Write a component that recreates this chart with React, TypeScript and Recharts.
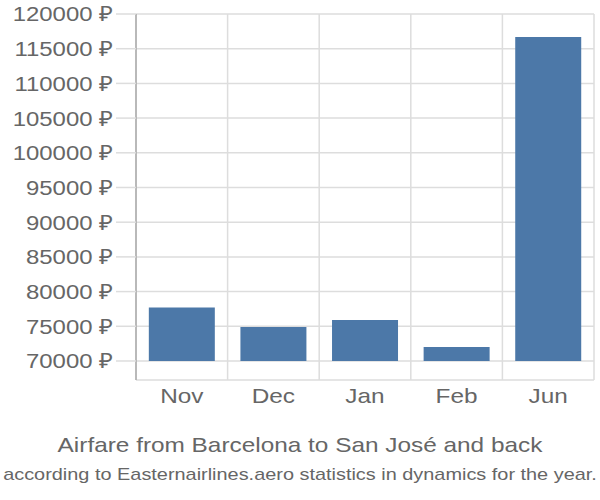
import React from 'react';
import { BarChart, Bar, XAxis, YAxis, CartesianGrid } from 'recharts';

const MONTHS = ['Nov', 'Dec', 'Jan', 'Feb', 'Jun'];
const PRICES = [77700, 74900, 75900, 72000, 116700];
const Y_TICKS = [70000, 75000, 80000, 85000, 90000, 95000, 100000, 105000, 110000, 115000, 120000];
const BASE = 70000;

// bars start at the 70000 line, the axis runs a bit below it
const data = MONTHS.map((month, i) => ({ month, price: [BASE, PRICES[i]] }));

const BAR_COLOR = '#4c78a8';
const TEXT_COLOR = '#666';
const FONT = '"Liberation Sans", Arial, sans-serif';
const STRETCH = 1.14;

const stretchAt = (x: number, k: number) => `translate(${x} 0) scale(${k} 1) translate(${-x} 0)`;

const YTick = ({ x, y, payload }: any) => (
  <text x={x} y={y} dy="0.355em" textAnchor="end" fill={TEXT_COLOR} fontSize={21} fontFamily={FONT} transform={stretchAt(x, STRETCH)}>
    {`${payload.value} ₽`}
  </text>
);

const XTick = ({ x, y, payload }: any) => (
  <text x={x} y={y} dy="0.71em" textAnchor="middle" fill={TEXT_COLOR} fontSize={21} fontFamily={FONT} transform={stretchAt(x, STRETCH + 0.02)}>
    {payload.value}
  </text>
);

const App: React.FC = () => {
  // vertical lines sit between the categories, not on them
  const boundaries = ({ offset }: any) => {
    const n = MONTHS.length;
    return Array.from({ length: n + 1 }, (_, i) => offset.left + (offset.width * i) / n);
  };

  return (
    <div style={{ position: 'absolute', left: 0, top: 0, width: 600, height: 500, fontFamily: FONT }}>
      <BarChart
        width={600}
        height={500}
        data={data}
        margin={{ top: 14, right: 6, bottom: 90, left: 0 }}
        barCategoryGap="14%"
      >
        <CartesianGrid stroke="#ddd" strokeWidth={1.5} verticalCoordinatesGenerator={boundaries} />
        <XAxis dataKey="month" axisLine={false} tickLine={false} height={30} tickMargin={2} tick={<XTick />} />
        <YAxis
          type="number"
          domain={[67260, 120000]}
          ticks={Y_TICKS}
          width={136}
          tickSize={20}
          tickMargin={3}
          tickLine={{ stroke: '#ddd', strokeWidth: 1.5 }}
          axisLine={{ stroke: '#aaa', strokeWidth: 1.5 }}
          tick={<YTick />}
          allowDataOverflow
        />
        <Bar dataKey="price" fill={BAR_COLOR} isAnimationActive={false} />
      </BarChart>
      <div style={{ position: 'absolute', top: 433, left: 0, width: 600, textAlign: 'center', fontSize: 21, color: TEXT_COLOR, transform: 'scaleX(1.16)' }}>
        Airfare from Barcelona to San José and back
      </div>
      <div style={{ position: 'absolute', top: 465, left: 0, width: 600, textAlign: 'center', fontSize: 17, color: TEXT_COLOR, whiteSpace: 'nowrap', transform: 'scaleX(1.17)' }}>
        according to Easternairlines.aero statistics in dynamics for the year.
      </div>
    </div>
  );
};

export default App;
